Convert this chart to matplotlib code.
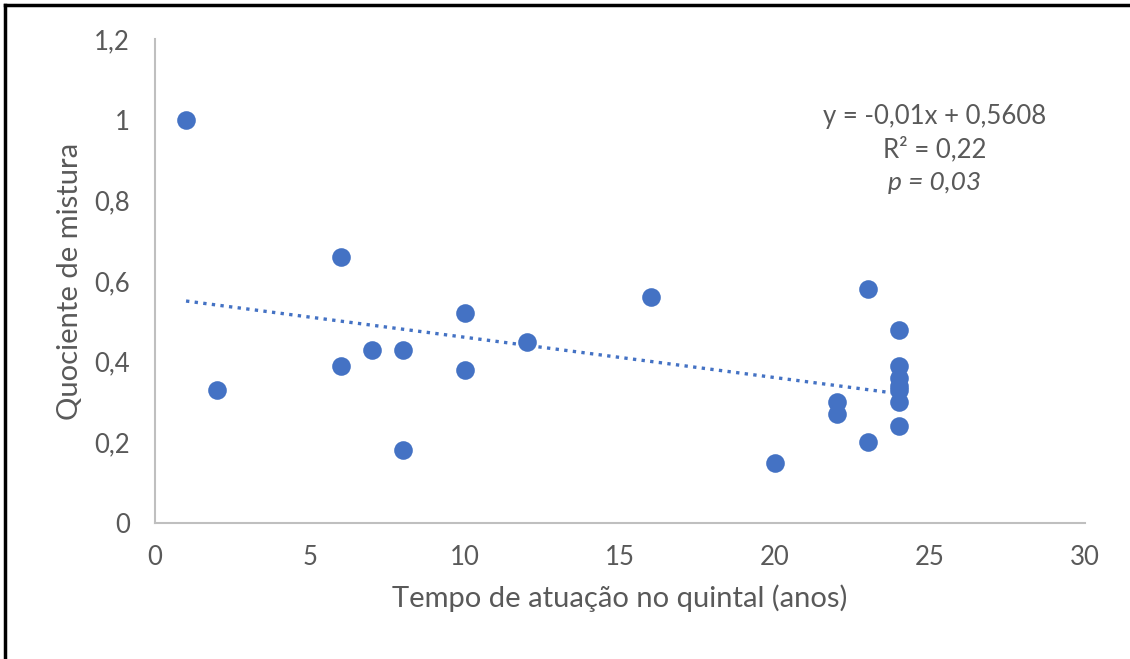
import matplotlib
matplotlib.use("Agg")
import matplotlib.pyplot as plt
from matplotlib.lines import Line2D
from matplotlib.ticker import FuncFormatter, MultipleLocator
import numpy as np

anos = [1, 2, 6, 6, 7, 8, 8, 10, 10, 12, 16, 20, 22, 22, 23, 23,
        24, 24, 24, 24, 24, 24, 24]
quociente = [1.0, 0.33, 0.66, 0.39, 0.43, 0.43, 0.18, 0.52, 0.38, 0.45, 0.56, 0.15,
             0.30, 0.27, 0.58, 0.20, 0.48, 0.39, 0.36, 0.34, 0.33, 0.30, 0.24]

slope = -0.01
intercept = 0.5608
r2 = 0.22
p_valor = 0.03

BLUE = "#4472C4"
GREY = "#595959"
AXIS = "#BFBFBF"

plt.rcParams["font.family"] = ["Lato", "DejaVu Sans"]

fig = plt.figure(figsize=(11.3, 6.59), dpi=100)
ax = fig.add_axes([0.1372, 0.2064, 0.8230, 0.7338])

ax.scatter(anos, quociente, s=180, color=BLUE, zorder=3, linewidths=0)

xs = np.array([min(anos), max(anos)])
ax.plot(xs, slope * xs + intercept, color=BLUE, linestyle=(0, (1, 1.6)),
        linewidth=2.4, zorder=2)

ax.set_xlim(0, 30)
ax.set_ylim(0, 1.2)
ax.xaxis.set_major_locator(MultipleLocator(5))
ax.yaxis.set_major_locator(MultipleLocator(0.2))
fmt = FuncFormatter(lambda v, pos: f"{round(v, 2):g}".replace(".", ","))
ax.xaxis.set_major_formatter(fmt)
ax.yaxis.set_major_formatter(fmt)
ax.tick_params(length=0, labelsize=18.5, colors=GREY, pad=16)
ax.tick_params(axis="y", pad=18)

for s in ["top", "right"]:
    ax.spines[s].set_visible(False)
for s in ["left", "bottom"]:
    ax.spines[s].set_color(AXIS)
    ax.spines[s].set_linewidth(1.5)

ax.set_xlabel("Tempo de atuação no quintal (anos)", fontsize=21, color=GREY, labelpad=10)
ax.set_ylabel("Quociente de mistura", fontsize=21, color=GREY, labelpad=8)

eq = f"y = {slope:g}x + {intercept:g}".replace(".", ",")
tx = 0.8387
ax.text(tx, 0.8416, eq, transform=ax.transAxes, ha="center", va="center",
        fontsize=18.5, color=GREY)
ax.text(tx, 0.7734, f"R² = {r2:g}".replace(".", ","), transform=ax.transAxes,
        ha="center", va="center", fontsize=18.5, color=GREY)
ax.text(tx, 0.705, f"p = {p_valor:g}".replace(".", ","), transform=ax.transAxes,
        ha="center", va="center", fontsize=19, color=GREY, style="italic")

# moldura (esquerda e topo)
fig.add_artist(Line2D([0.0048, 0.0048], [0, 0.9925], color="black", linewidth=2.5))
fig.add_artist(Line2D([0.0048, 1], [0.9925, 0.9925], color="black", linewidth=2.5))

fig.savefig("out.png", dpi=100)
